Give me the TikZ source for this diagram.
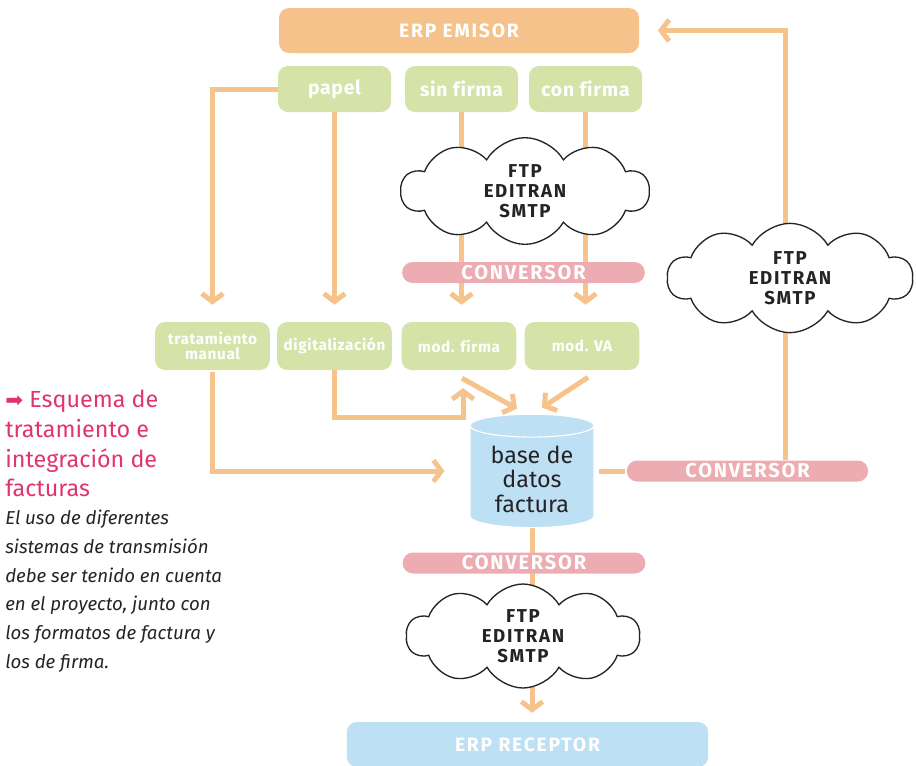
\documentclass[tikz,border=0pt]{standalone}
\usepackage{fontspec}
\setmainfont{Fira Sans}
\setsansfont{Fira Sans}
\newfontfamily\capsfont[LetterSpace=9]{Fira Sans}
\newfontfamily\labelfont[LetterSpace=4,Ligatures=NoCommon]{Fira Sans}
\newfontfamily\arrowfont{DejaVu Sans}
\usetikzlibrary{arrows.meta,positioning,shapes.geometric,shapes.symbols,backgrounds}
\definecolor{emisorfill}{HTML}{F4C28A}
\definecolor{flowcol}{HTML}{F5C38B}
\definecolor{greenbox}{HTML}{D5E3A9}
\definecolor{barpink}{HTML}{EDACB2}
\definecolor{dbblue}{HTML}{BEE0F5}
\definecolor{titlepink}{HTML}{E0346C}
\definecolor{darktext}{HTML}{262324}
\tikzset{
  erp/.style={rounded corners=7.5pt, text=white, minimum width=270pt, minimum height=33.75pt,
    font=\capsfont\bfseries\fontsize{14.5}{16}\selectfont},
  toprow/.style={rounded corners=7.5pt, fill=greenbox, text=white, minimum width=84.75pt,
    minimum height=34.5pt, font=\labelfont\bfseries\fontsize{14.5}{16}\selectfont},
  midrow/.style={rounded corners=7.5pt, fill=greenbox, text=white, minimum width=86pt,
    minimum height=36pt, align=center, inner sep=1pt,
    font=\labelfont\bfseries\fontsize{11.5}{11.5}\selectfont},
  convbar/.style={rounded corners=7.8pt, fill=barpink, text=white, minimum width=182pt,
    minimum height=15.75pt, inner sep=0pt, font=\capsfont\bfseries\fontsize{15}{16}\selectfont},
  net/.style={cloud, cloud puffs=10, cloud puff arc=120, aspect=2.3, draw=darktext,
    line width=1pt, fill=white, align=center, inner sep=0pt, text=darktext,
    font=\capsfont\bfseries\fontsize{14}{15}\selectfont},
  flow/.style={draw=flowcol, line width=3.75pt, -{Straight Barb[length=6pt,width=16pt]}},
  link/.style={draw=flowcol, line width=3.75pt}
}
\begin{document}
\begin{tikzpicture}[x=0.75pt, y=-0.75pt]
  \useasboundingbox (0,0) rectangle (916,765);
  \node[erp, fill=emisorfill] (emisor) at (459,30.5) {ERP EMISOR};
  \node[toprow] (papel) at (334.5,89) {papel};
  \node[toprow] (sinfirma) at (461.5,89) {sin firma};
  \node[toprow] (confirma) at (585.5,89) {con firma};
  \node[net, minimum width=186pt, minimum height=80pt] (net1) at (525,191) {FTP\\EDITRAN\\SMTP};
  \node[convbar] (conv1) at (523.5,272.5) {CONVERSOR};
  \node[midrow] (tratman) at (212.5,346) {tratamiento\\manual};
  \node[midrow] (digital) at (334.5,346) {digitalización};
  \node[midrow] (modfirma) at (459,346) {mod. firma};
  \node[midrow] (modva) at (582,346) {mod. VA};
  \node[cylinder, shape border rotate=90, aspect=0.25, minimum width=93pt, minimum height=85pt,
    cylinder uses custom fill, cylinder body fill=dbblue, cylinder end fill=dbblue,
    draw=white, line width=0.8pt, align=center, text=darktext,
    font=\fontsize{17.5}{18.4}\selectfont] (db) at (532,479) {base de\\datos\\factura};
  \node[convbar, minimum width=181pt] (conv2) at (747.5,471) {CONVERSOR};
  \node[net, minimum width=184pt, minimum height=82pt] (net2) at (790,278) {FTP\\EDITRAN\\SMTP};
  \node[convbar] (conv3) at (524,563) {CONVERSOR};
  \node[net, minimum width=175pt, minimum height=78pt] (net3) at (523,636) {FTP\\EDITRAN\\SMTP};
  \node[erp, fill=dbblue, minimum width=271pt] (receptor) at (527.5,744.5) {ERP RECEPTOR};
  \coordinate (turn) at (463,388);
  \begin{scope}[on background layer]
    \draw[flow, shorten >=12.75pt] (papel.west) -| (tratman.north);
    \draw[flow, shorten >=12.75pt] (papel.south) -- (digital.north);
    \draw[flow, shorten >=12.75pt] (sinfirma.south) -- (sinfirma.south |- modfirma.north);
    \draw[flow, shorten >=12.75pt] (confirma.south) -- (confirma.south |- modva.north);
    \draw[flow] (digital.south) -- ++(0,47) -| (turn);
    \draw[flow] ([shift={(3,8)}]modfirma.south) -- ([shift={(-15,-5)}]db.north);
    \draw[flow] ([shift={(6,7)}]modva.south) -- ([shift={(10,-6)}]db.north);
    \draw[flow, shorten <=1.5pt, shorten >=18.75pt] (tratman.south) |- (db.west |- conv2.west);
    \draw[link, shorten <=3pt, shorten >=1.5pt] (db.east |- conv2.west) -- (conv2.west);
    \draw[flow, shorten >=14pt] ([shift={(37.5,0)}]conv2.north) |- (emisor.east);
    \draw[flow, shorten >=6.75pt] (db.south) -- (db.south |- receptor.north);
  \end{scope}
  \node[anchor=north west, inner sep=0pt, align=left, text=titlepink,
    font=\fontsize{17.5}{22.3}\selectfont] (title) at (5,390)
    {{\arrowfont\fontsize{16}{16}\selectfont ➡} Esquema de\\tratamiento e\\integración de\\facturas};
  \node[anchor=north west, inner sep=0pt, align=left, text=darktext,
    font=\itshape\fontsize{14}{21.5}\selectfont] (note) at (5,510)
    {El uso de diferentes\\sistemas de transmisión\\debe ser tenido en cuenta\\en el proyecto, junto con\\los formatos de factura y\\los de firma.};
\end{tikzpicture}
\end{document}
